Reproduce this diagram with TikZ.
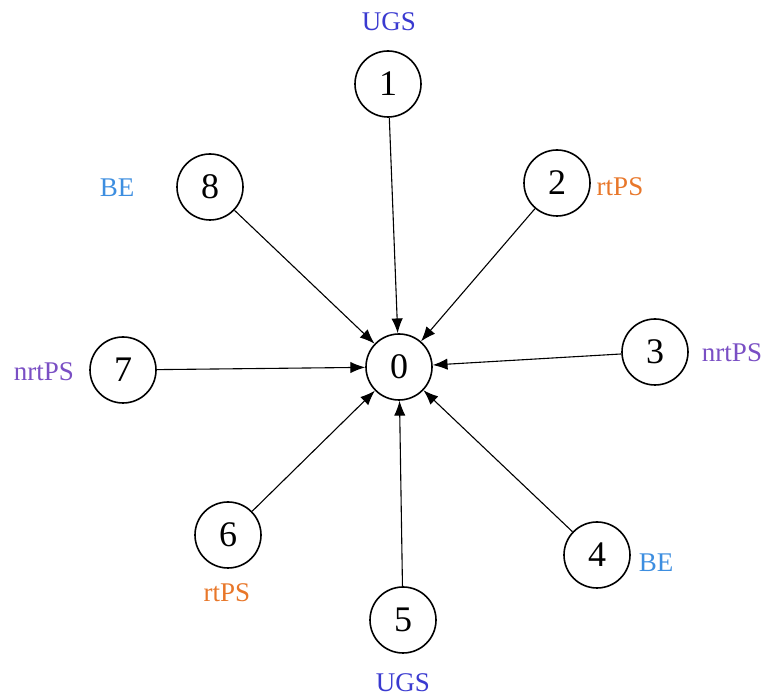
\documentclass[tikz,border=0pt]{standalone}
\usepackage{fontspec}
\setmainfont{Liberation Serif}
\usetikzlibrary{arrows.meta}

\definecolor{ugsblue}{HTML}{3A3AD0}
\definecolor{rtorange}{HTML}{E8772A}
\definecolor{nrtpurple}{HTML}{7A4FC4}
\definecolor{belight}{HTML}{3D8EE0}

\begin{document}
\begin{tikzpicture}[
    x=0.5pt, y=-0.5pt,
    station/.style={circle, draw, line width=0.8pt, minimum size=33pt, inner sep=0pt, font=\fontsize{18}{21}\selectfont},
    cls/.style={font=\fontsize{13.5}{16}\selectfont},
    arrow/.style={-{Latex[length=2.6mm, width=2mm]}, line width=0.55pt}
  ]
    \useasboundingbox (0,0) rectangle (766,699);

    % Base station and subscriber stations
    \node[station] (bs) at (399,367) {0};
    \node[station] (s1) at (388,84) {1};
    \node[station] (s2) at (557,183) {2};
    \node[station] (s3) at (655,352) {3};
    \node[station] (s4) at (597,555) {4};
    \node[station] (s5) at (403,620) {5};
    \node[station] (s6) at (228,535) {6};
    \node[station] (s7) at (123,370) {7};
    \node[station] (s8) at (210,187) {8};

    % Service classes
    \node[cls, text=ugsblue] (c1) at (389,22) {UGS};
    \node[cls, text=rtorange] (c2) at (620,187) {rtPS};
    \node[cls, text=nrtpurple] (c3) at (732,353) {nrtPS};
    \node[cls, text=belight] (c4) at (656,563) {BE};
    \node[cls, text=ugsblue] (c5) at (403,683) {UGS};
    \node[cls, text=rtorange] (c6) at (227,593) {rtPS};
    \node[cls, text=nrtpurple] (c7) at (44,372) {nrtPS};
    \node[cls, text=belight] (c8) at (117,188) {BE};

    % Uplinks
    \foreach \s in {s1,s2,s3,s4,s5,s6,s7,s8}
      \draw[arrow] (\s) -- (bs);
\end{tikzpicture}
\end{document}
